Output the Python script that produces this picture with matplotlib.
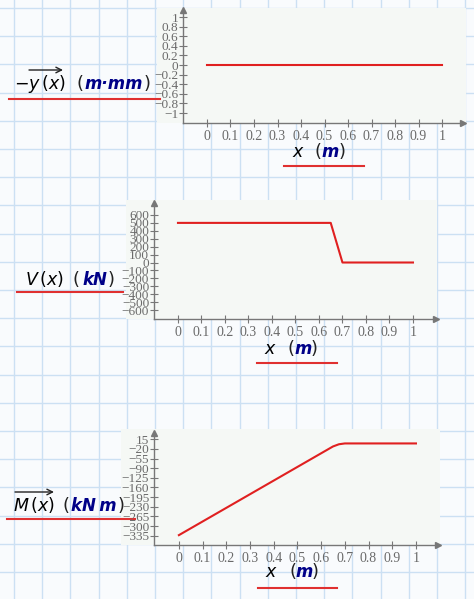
import numpy as np
import matplotlib.pyplot as plt
from matplotlib.patches import Rectangle

plt.rcParams['font.family'] = ['Liberation Serif', 'DejaVu Serif']
plt.rcParams['mathtext.fontset'] = 'dejavusans'

# data
x_defl = [0, 1]
defl = [0, 0]
x_shear = [0, 0.65, 0.7, 1]
shear = [500, 500, 0, 0]
x_moment = [0, 0.65, 0.675, 0.7, 1]
moment = [-333, -11, -3, 0, 0]

x_ticks = [0, 0.1, 0.2, 0.3, 0.4, 0.5, 0.6, 0.7, 0.8, 0.9, 1]
defl_ticks = [1, 0.8, 0.6, 0.4, 0.2, 0, -0.2, -0.4, -0.6, -0.8, -1]
shear_ticks = [600, 500, 400, 300, 200, 100, 0, -100, -200, -300, -400, -500, -600]
moment_ticks = [15, -20, -55, -90, -125, -160, -195, -230, -265, -300, -335]

W, H = 474, 599
fig = plt.figure(figsize=(W / 100, H / 100), dpi=100)
fig.patch.set_facecolor('#f9fbfd')

# background worksheet grid, pixel coords
bg = fig.add_axes([0, 0, 1, 1])
bg.set_xlim(0, W)
bg.set_ylim(H, 0)
bg.axis('off')
for gx in np.arange(14, W, 28.2):
    bg.axvline(gx, color='#cce0f3', lw=1, zorder=0)
for gy in np.arange(8, H, 28.2):
    bg.axhline(gy, color='#cce0f3', lw=1, zorder=0)

# plot regions (left, top, right, bottom)
for l, t, r, b in [(157, 8, 466, 123), (126, 200, 437, 319), (121, 429, 440, 545)]:
    bg.add_patch(Rectangle((l, t), r - l, b - t, facecolor='#f5f8f5', edgecolor='none', zorder=1))


def fmt(v):
    s = ('%g' % v)
    return s.replace('-', '\u2212')


def make_axes(left, top, right, bottom, xlim, ylim, yticks):
    ax = fig.add_axes([left / W, 1 - bottom / H, (right - left) / W, (bottom - top) / H])
    ax.set_facecolor('none')
    ax.set_xlim(*xlim)
    ax.set_ylim(*ylim)
    for s in ['top', 'right']:
        ax.spines[s].set_visible(False)
    for s in ['left', 'bottom']:
        ax.spines[s].set_color('#777777')
        ax.spines[s].set_linewidth(1)
    ax.set_xticks(x_ticks)
    ax.set_xticklabels([fmt(v) for v in x_ticks])
    ax.set_yticks(yticks)
    ax.set_yticklabels([fmt(v) for v in yticks])
    ax.tick_params(direction='inout', length=6, width=0.8, color='#777777',
                   labelcolor='#6a6a6a', labelsize=9.5)
    ax.tick_params(axis='x', pad=2, labelsize=10)
    ax.tick_params(axis='y', pad=0.5)
    ax.plot(1, 0, '>', color='#777777', ms=5, transform=ax.transAxes, clip_on=False)
    ax.plot(0, 1, '^', color='#777777', ms=5, transform=ax.transAxes, clip_on=False)
    return ax


ax1 = make_axes(183, 10, 463, 123, (-0.102, 1.089), (-1.208, 1.146), defl_ticks)
ax1.plot(x_defl, defl, color='#e02020', lw=1.5)

ax2 = make_axes(154, 203, 436, 319, (-0.102, 1.098), (-713, 751), shear_ticks)
ax2.plot(x_shear, shear, color='#e02020', lw=1.5)

ax3 = make_axes(154, 433, 438, 545, (-0.105, 1.093), (-368.8, 37.9), moment_ticks)
ax3.plot(x_moment, moment, color='#e02020', lw=1.5)


def unit_label(cx, base, name, size=12):
    bg.text(cx, base, name, ha='center', va='baseline', fontsize=size,
            family='DejaVu Sans', style='italic', weight='bold', color='#000088', zorder=5)


def paren(x, base, ch, size=13):
    bg.text(x, base, ch, ha='center', va='baseline', fontsize=size,
            family='DejaVu Sans', color='#222222', zorder=5)


def vec_arrow(x0, x1, yy):
    bg.annotate('', xy=(x1, yy), xytext=(x0, yy),
                arrowprops=dict(arrowstyle='->', lw=1, color='#222222',
                                shrinkA=0, shrinkB=0), zorder=5)


# y labels
bg.text(40, 89, r'$-y\,(x)$', ha='center', va='baseline', fontsize=12.5, zorder=5)
vec_arrow(29, 63, 70)
paren(80, 89, '(')
unit_label(113.5, 89, 'm\u00b7mm')
paren(147, 89, ')')

bg.text(44.5, 285, r'$V\,(x)$', ha='center', va='baseline', fontsize=12.5, zorder=5)
paren(76, 285, '(')
unit_label(94.5, 285, 'kN')
paren(111, 285, ')')

bg.text(34, 511, r'$M\,(x)$', ha='center', va='baseline', fontsize=12.5, zorder=5)
vec_arrow(15, 54, 492)
paren(66, 511, '(')
unit_label(93.5, 511, 'kN\u2009m')
paren(121, 511, ')')

# x labels
for xx, px1, pc, px2, base in [(298, 318, 330, 342, 157), (270, 291, 303, 314, 354), (271, 293, 304, 315, 577)]:
    bg.text(xx, base, r'$x$', ha='center', va='baseline', fontsize=12.5, zorder=5)
    paren(px1, base, '(')
    unit_label(pc, base, 'm')
    paren(px2, base, ')')

# red underlines
for x0, x1, yy in [(9, 160, 99), (17, 123, 292), (7, 135, 519),
                   (284, 364, 166), (257, 337, 363), (258, 337, 588)]:
    bg.plot([x0, x1], [yy, yy], color='#e03030', lw=1.5, zorder=6)

fig.savefig('out.png', dpi=100)
